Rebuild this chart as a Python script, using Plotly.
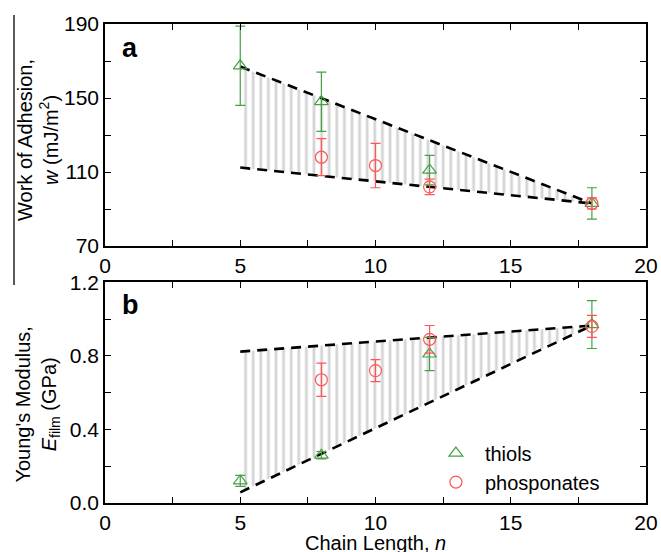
import plotly.graph_objects as go

# ---------------- data ----------------
n_thiol = [5, 8, 12, 18]
w_thiol = [167.4, 148, 111, 93]
w_thiol_err = [21.4, 16, 8, 8.5]

n_phos = [8, 10, 12, 18]
w_phos = [118, 113.5, 102, 93]
w_phos_err = [10, 12, 4.2, 3]

E_thiol = [0.12, 0.26, 0.81, 0.97]
E_thiol_err = [0.03, 0.02, 0.09, 0.13]

E_phos = [0.67, 0.72, 0.89, 0.96]
E_phos_err = [0.09, 0.06, 0.075, 0.06]

n_bounds = [5, 18]
w_upper = [167, 93]
w_lower = [112.4, 93]
E_upper = [0.823, 0.965]
E_lower = [0.058, 0.965]

x_ticks = [0, 2.5, 5, 7.5, 10, 12.5, 15, 17.5, 20]
x_ticktext = ["0", "", "5", "", "10", "", "15", "", "20"]
w_ticks = [70, 90, 110, 130, 150, 170, 190]
w_ticktext = ["70", "", "110", "", "150", "", "190"]
E_ticks = [0.0, 0.2, 0.4, 0.6, 0.8, 1.0, 1.2]
E_ticktext = ["0.0", "", "0.4", "", "0.8", "", "1.2"]

# ---------------- style ----------------
FONT = "Liberation Sans, Arial, sans-serif"
GREEN = "rgb(70,160,70)"
RED = "rgb(255,85,85)"
DASH = dict(color="black", width=2.6, dash="10px,7px")
HATCH = dict(shape="|", size=7.6, solidity=0.36, fgcolor="#a9a9a9", bgcolor="rgba(255,255,255,0)")

fig = go.Figure()

def band(lower, upper, xa, ya):
    fig.add_trace(go.Scatter(x=n_bounds, y=lower, mode="lines", line=DASH,
                             xaxis=xa, yaxis=ya, showlegend=False, hoverinfo="skip"))
    fig.add_trace(go.Scatter(x=n_bounds, y=upper, mode="lines", line=DASH,
                             fill="tonexty", fillcolor="rgba(0,0,0,0)", fillpattern=HATCH,
                             xaxis=xa, yaxis=ya, showlegend=False, hoverinfo="skip"))

band(w_lower, w_upper, "x", "y")
band(E_lower, E_upper, "x2", "y2")

def pts(x, y, err, xa, ya, name, symbol, color, legend):
    fig.add_trace(go.Scatter(
        x=x, y=y, mode="markers", name=name, xaxis=xa, yaxis=ya, showlegend=legend,
        marker=dict(symbol=symbol, size=12, color=color, line=dict(color=color, width=1.2)),
        error_y=dict(type="data", array=err, visible=True, color=color, thickness=1.2, width=5),
    ))

pts(n_thiol, w_thiol, w_thiol_err, "x", "y", "thiols", "triangle-up-open", GREEN, False)
pts(n_phos, w_phos, w_phos_err, "x", "y", "phosponates", "circle-open", RED, False)
pts(n_thiol, E_thiol, E_thiol_err, "x2", "y2", "thiols", "triangle-up-open", GREEN, True)
pts(n_phos, E_phos, E_phos_err, "x2", "y2", "phosponates", "circle-open", RED, True)

axis_common = dict(showline=True, linecolor="black", linewidth=1.6, mirror="allticks",
                   ticks="inside", ticklen=6, tickwidth=1.3, tickcolor="black", automargin=False,
                   showgrid=False, zeroline=False, tickfont=dict(family=FONT, size=21, color="black"))

fig.update_layout(
    width=661, height=552, autosize=False,
    margin=dict(l=105, r=15, t=24, b=49),
    paper_bgcolor="white", plot_bgcolor="white",
    font=dict(family=FONT, color="black"),
    xaxis=dict(domain=[0, 1], anchor="y", range=[0, 20], tickmode="array",
               tickvals=x_ticks, ticktext=x_ticktext, **axis_common),
    yaxis=dict(domain=[0.5365, 1], anchor="x", range=[70, 190], tickmode="array",
               tickvals=w_ticks, ticktext=w_ticktext, **axis_common),
    xaxis2=dict(domain=[0, 1], anchor="y2", range=[0, 20], tickmode="array",
                tickvals=x_ticks, ticktext=x_ticktext, **axis_common),
    yaxis2=dict(domain=[0, 0.4608], anchor="x2", range=[0, 1.2], tickmode="array",
                tickvals=E_ticks, ticktext=E_ticktext, **axis_common),
    legend=dict(x=0.595, y=0.145, xanchor="left", yanchor="top", traceorder="normal",
                bgcolor="rgba(0,0,0,0)", font=dict(family=FONT, size=20, color="black"),
                itemsizing="trace", itemwidth=48, tracegroupgap=0),
    showlegend=True,
)

ann_font = dict(family=FONT, size=20, color="black")
fig.add_annotation(text="<b>a</b>", xref="paper", yref="paper", x=0.028, y=0.9495,
                   xanchor="left", yanchor="middle", showarrow=False,
                   font=dict(family=FONT, size=27, color="black"))
fig.add_annotation(text="<b>b</b>", xref="paper", yref="paper", x=0.028, y=0.4125,
                   xanchor="left", yanchor="middle", showarrow=False,
                   font=dict(family=FONT, size=27, color="black"))
fig.add_annotation(text="Work of Adhesion,<br><i>w</i> (mJ/m<sup>2</sup>)", xref="paper", yref="paper",
                   x=-0.1243, y=0.7575, xanchor="center", yanchor="middle", textangle=-90,
                   showarrow=False, font=ann_font)
fig.add_annotation(text="Young's Modulus,<br><i>E</i><sub>film</sub> (GPa)", xref="paper", yref="paper",
                   x=-0.1243, y=0.207, xanchor="center", yanchor="middle", textangle=-90,
                   showarrow=False, font=ann_font)
fig.add_annotation(text="Chain Length, <i>n</i>", xref="paper", yref="paper",
                   x=0.5, y=-0.0565, xanchor="center", yanchor="top",
                   showarrow=False, font=dict(family=FONT, size=20, color="black"))

fig.add_shape(type="line", xref="paper", yref="paper", x0=-0.1682, x1=-0.1682, y0=0.455, y1=1.0188,
              line=dict(color="black", width=1.3))

post = ("document.documentElement.style.margin='0';document.body.style.margin='0';"
        "document.documentElement.style.overflow='hidden';document.body.style.overflow='hidden';"
        "var gd=document.getElementById('{plot_id}');"
        "Plotly.relayout(gd,{width:661,height:552});")
fig.write_html("out.html", config={"responsive": False, "displayModeBar": False}, post_script=post)
